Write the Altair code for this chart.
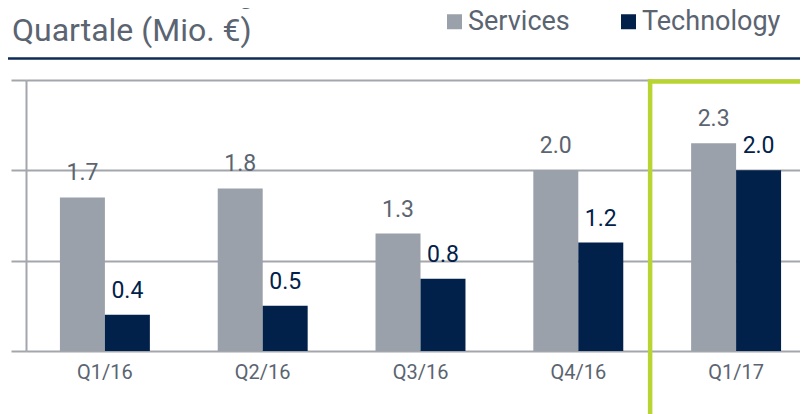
import altair as alt
import pandas as pd

quarters = ["Q1/16", "Q2/16", "Q3/16", "Q4/16", "Q1/17"]
series_names = ["Services", "Technology"]
services = [1.7, 1.8, 1.3, 2.0, 2.3]
technology = [0.4, 0.5, 0.8, 1.2, 2.0]
highlight_quarter = "Q1/17"
title_lines = "EBIT-Entwicklung 2016/2017\nQuartale (Mio. €)"

rows = []
for q, s, t in zip(quarters, services, technology):
    rows.append({"quarter": q, "series": "Services", "value": s})
    rows.append({"quarter": q, "series": "Technology", "value": t})
df = pd.DataFrame(rows)

GRAY_BAR = "#9aa1aa"
NAVY = "#02214a"
TEXT_GRAY = "#5b6471"
GRID = "#a3a6ab"
GREEN = "#b8d432"
FONT = "Roboto"

x_enc = alt.X(
    "quarter:N",
    sort=quarters,
    scale=alt.Scale(domain=quarters, range=[0, 789], paddingInner=0.43, paddingOuter=0.215),
    axis=alt.Axis(
        title=None, domain=False, ticks=False, labelAngle=0, labelFontSize=20,
        labelColor=TEXT_GRAY, labelFont=FONT, labelPadding=11,
    ),
)
xoff_enc = alt.XOffset(
    "series:N", sort=series_names,
    scale=alt.Scale(domain=series_names, paddingInner=0, paddingOuter=0),
)
y_enc = alt.Y(
    "value:Q",
    scale=alt.Scale(domain=[0, 3], nice=False),
    axis=alt.Axis(
        title=None, values=[0, 1, 2, 3], labels=False,
        domain=True, domainColor=GRID, domainWidth=2,
        ticks=True, tickSize=15, tickColor=GRID, tickWidth=2,
        grid=True, gridColor=GRID, gridWidth=2,
    ),
)

bars = alt.Chart(df).mark_bar().encode(
    x=x_enc,
    xOffset=xoff_enc,
    y=y_enc,
    color=alt.Color(
        "series:N",
        scale=alt.Scale(domain=series_names, range=[GRAY_BAR, NAVY]),
        legend=alt.Legend(
            orient="none", legendX=415, legendY=-72, direction="horizontal",
            title=None, symbolType="square", symbolSize=225, symbolStrokeWidth=0,
            symbolOpacity=1, labelFontSize=27, labelColor=TEXT_GRAY, labelFont=FONT,
            labelOffset=0, columnPadding=45, padding=0, labelLimit=300,
        ),
    ),
)

labels = alt.Chart(df).mark_text(
    dy=-17, baseline="alphabetic", align="center", fontSize=23, font=FONT
).encode(
    x=alt.X("quarter:N", sort=quarters),
    xOffset=alt.XOffset("series:N", sort=series_names),
    y="value:Q",
    text=alt.Text("value:Q", format=".1f"),
    color=alt.condition(alt.datum.series == "Services", alt.value(TEXT_GRAY), alt.value(NAVY)),
)

one = pd.DataFrame({"t": [title_lines]})

title = alt.Chart(one).mark_text(
    align="left", baseline="alphabetic", fontSize=32, font=FONT,
    lineBreak="\n", lineHeight=38, color=TEXT_GRAY,
).encode(text="t:N", x=alt.value(-14), y=alt.value(-77))

header_rule = alt.Chart(one).mark_rule(color="#0f2b55", strokeWidth=2.5).encode(
    x=alt.value(-18), x2=alt.value(800), y=alt.value(-21.5)
)

green_v = alt.Chart(one).mark_rule(color=GREEN, strokeWidth=4.5, xOffset=-41, strokeCap="square").encode(
    x=alt.X(datum=highlight_quarter, bandPosition=0),
    y=alt.value(1.6), y2=alt.value(420),
)
green_h = alt.Chart(one).mark_rule(color=GREEN, strokeWidth=4.5, xOffset=-41, strokeCap="square").encode(
    x=alt.X(datum=highlight_quarter, bandPosition=0),
    x2=alt.value(820), y=alt.value(1.6),
)

chart = alt.layer(bars, labels, green_v, green_h, header_rule, title).properties(
    width=774, height=271,
    autosize=alt.AutoSizeParams(type="none"),
    padding={"left": 18, "top": 72, "right": 0, "bottom": 63},
).configure_view(stroke=None).configure(font=FONT)

chart.save("out.html", embed_options={"renderer": "svg", "actions": False})
